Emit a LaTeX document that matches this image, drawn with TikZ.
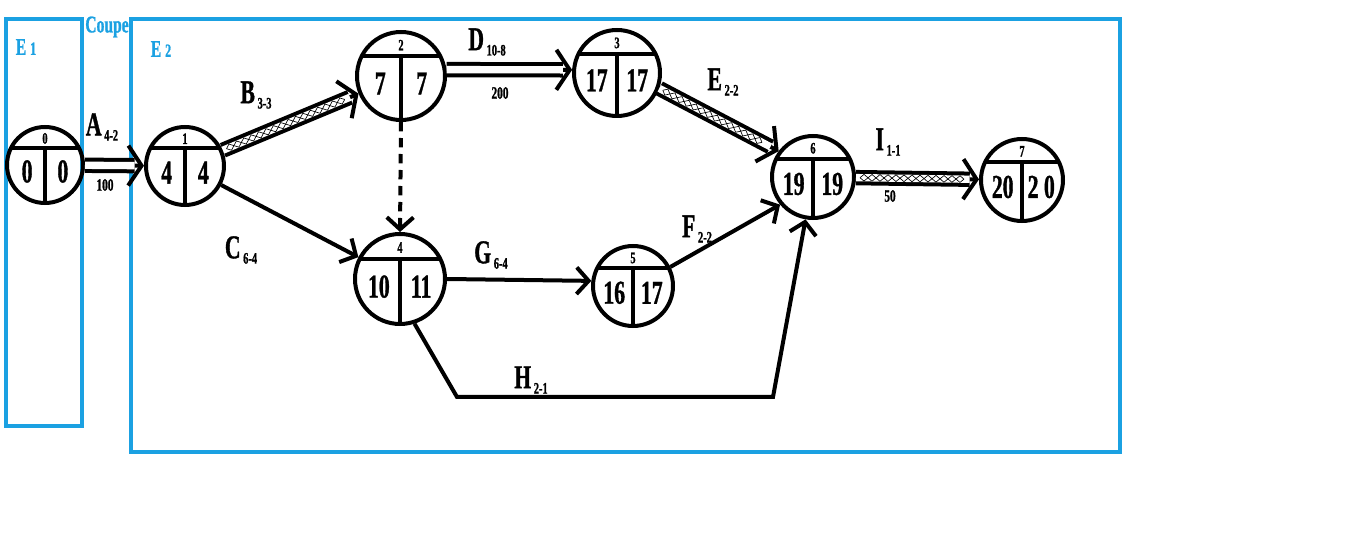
\documentclass[tikz,border=0pt]{standalone}
\usepackage{fontspec}
\setmainfont{Liberation Serif}[FakeStretch=0.65, BoldFeatures={FakeBold=1}]
\usetikzlibrary{arrows.meta,calc,decorations.pathmorphing}
\definecolor{cutblue}{RGB}{27,161,226}
% lowered durations after the task letter
\newcommand{\dur}[1]{\kern2pt\raisebox{-4pt}{\fontsize{12}{12}\selectfont #1}}
\tikzset{
    %Define standard arrow tip
    >={Straight Barb[length=9pt,width=20pt]},
    %Define style for events
    evt/.style={
           circle,
           draw=black, line width=3pt,
           inner sep=0pt,
           path picture={
             \draw[line width=3pt]
               ($(path picture bounding box.west)!.45!(path picture bounding box.north west)$) --
               ($(path picture bounding box.east)!.45!(path picture bounding box.north east)$);
             \draw[line width=3pt]
               ($(path picture bounding box.center)!.45!(path picture bounding box.north)$) --
               (path picture bounding box.south);}},
    topnum/.style={font=\fontsize{12}{12}\selectfont\bfseries, inner sep=0pt},
    bignum/.style={font=\fontsize{25}{25}\selectfont\bfseries, inner sep=0pt},
    % labels of the tasks
    task/.style={font=\fontsize{25}{25}\selectfont\bfseries, inner sep=0pt},
    cost/.style={font=\fontsize{13}{13}\selectfont\bfseries, inner sep=0pt},
    % the cut
    cut/.style={draw=cutblue, line width=3pt},
    cutlbl/.style={text=cutblue, font=\fontsize{18}{18}\selectfont\bfseries, inner sep=0pt},
    % Define arrow styles
    arr/.style={line width=3pt, ->},
    dsh/.style={arr, dash pattern=on 7pt off 5pt},
    dbltip/.style={line width=3pt, -{Straight Barb[length=10pt,width=30pt]}},
    dbl/.style={double, double distance=5.5pt, line width=3pt, shorten >=7pt},
    zz/.style={decorate, draw, line width=0.5pt,
           decoration={zigzag, amplitude=2.5pt, segment length=12pt,
             pre=moveto, pre length=3pt, post=moveto, post length=10pt, #1}},
    zz/.default=,
    hatch/.style={postaction={zz}, postaction={zz=mirror}}
}
\begin{document}
\begin{tikzpicture}[x=0.75pt,y=-0.75pt]
\useasboundingbox (0,0) rectangle (1354,545);
% the two sets and the cut
\draw[cut] (6,19) rectangle (82,426);
\draw[cut] (131,19) rectangle (1120,452);
\node[cutlbl] (zoneA) at (26,47) {E {\fontsize{14}{14}\selectfont 1}};
\node[cutlbl] (zoneB) at (161,49) {E {\fontsize{14}{14}\selectfont 2}};
\node[cutlbl] (coupe) at (107,27) {Coupe};
% events
\foreach \n/\x/\y/\rad/\es/\ls in {0/45/165/38/0/0, 1/185/166/39/4/4,
    2/401/76/44/7/7, 3/617/73/43/17/17, 4/400/279/45/10/11,
    5/633/286/40/16/17, 6/813/177/41/19/19, 7/1022/180/41/20/2 0}{
  \node[evt, minimum size=1.5*\rad pt] (n\n) at (\x,\y) {};
  \node[topnum] (t\n) at ($(n\n)+(0,-0.7*\rad)$) {\n};
  \node[bignum] (es\n) at ($(n\n)+(-0.47*\rad,0.17*\rad)$) {\es};
  \node[bignum] (ls\n) at ($(n\n)+(0.47*\rad,0.17*\rad)$) {\ls};
}
% double tasks
\draw[dbltip] (n0) -- (n1);
\draw[dbl] (n0) -- (n1);
\draw[dbltip] (n1) -- (n2);
\draw[dbl] (n1) -- (n2);
\path[hatch] (n1) -- (n2);
\draw[dbltip] (n2.8) -- (n3.176);
\draw[dbl] (n2.8) -- (n3.176);
\draw[dbltip] (n3.-20) -- (n6.143);
\draw[dbl] (n3.-20) -- (n6.143);
\path[hatch] (n3.-20) -- (n6.143);
\draw[dbltip] (n6) -- (n7);
\draw[dbl] (n6) -- (n7);
\path[hatch] (n6) -- (n7);
% simple tasks
\draw[arr] (n1) -- (n4);
\draw[dsh] (n2.south) -- (n4.north);
\draw[arr] (n4.east) -- (n5.173);
\draw[arr] (n5.27) -- (n6.220);
\coordinate (h1) at (457,397);
\coordinate (h2) at (773,397);
\draw[arr] (n4.-72) -- (h1) -- (h2) -- (n6.-100);
% labels
\node[task] (lA) at (102,127) {A\dur{4-2}};
\node[cost] (cA) at (105,185) {100};
\node[task] (lB) at (256,95) {B\dur{3-3}};
\node[task] (lC) at (241,250) {C\dur{6-4}};
\node[task] (lD) at (487,42) {D\dur{10-8}};
\node[cost] (cD) at (500,93) {200};
\node[task] (lE) at (723,82) {E\dur{2-2}};
\node[task] (lF) at (697,229) {F\dur{2-2}};
\node[task] (lG) at (491,255) {G\dur{6-4}};
\node[task] (lH) at (531,380) {H\dur{2-1}};
\node[task] (lI) at (888,142) {I\dur{1-1}};
\node[cost] (cI) at (890,196) {50};
\end{tikzpicture}
\end{document}
